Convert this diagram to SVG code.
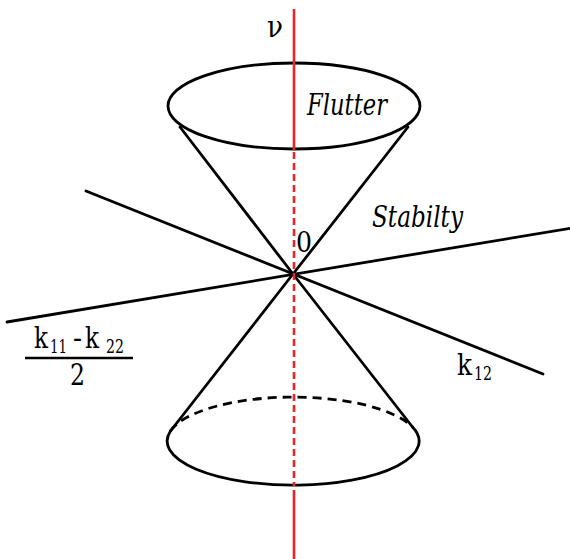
<svg xmlns="http://www.w3.org/2000/svg" width="570" height="559" viewBox="0 0 570 559">
<style>
.blk{stroke:#000;stroke-width:2.8;fill:none;stroke-linecap:round}
.dash{stroke-dasharray:9 6;stroke-linecap:butt}
.red{stroke:#e8262a;stroke-width:2.6;fill:none}
.rdash{stroke-dasharray:7 4}
.t{font-family:"DejaVu Serif",serif;fill:#000}
.it{font-style:italic}
</style>
<rect width="570" height="559" fill="#fff"/>
<g id="connectors">
<line class="blk" x1="86" y1="191" x2="543" y2="374"/>
<line class="blk" x1="7" y1="322" x2="572" y2="228"/>
</g>
<g id="upper-cone">
<ellipse class="blk" cx="294" cy="106" rx="126" ry="43"/>
<line class="blk" x1="180" y1="127" x2="293" y2="274"/>
<line class="blk" x1="408" y1="127" x2="293" y2="274"/>
</g>
<g id="lower-cone">
<line class="blk" x1="293" y1="274" x2="170.5" y2="431"/>
<line class="blk" x1="293" y1="274" x2="412.5" y2="427"/>
<path class="blk" d="M170.5,431 A126,44 0 1 0 412.5,427"/>
<path class="blk dash" d="M170.5,431 A126,44 0 0 1 412.5,427"/>
</g>
<g id="nu-axis">
<line class="red" x1="294" y1="9" x2="294" y2="150"/>
<line class="red rdash" x1="294" y1="152" x2="294" y2="486"/>
<line class="red" x1="294" y1="490" x2="294" y2="559"/>
</g>
<g id="labels">
<text class="t" x="267" y="37" font-size="29" textLength="16" lengthAdjust="spacingAndGlyphs">ν</text>
<text class="t it" x="307" y="115" font-size="29" textLength="80" lengthAdjust="spacingAndGlyphs">Flutter</text>
<text class="t it" x="372" y="227" font-size="29" textLength="91" lengthAdjust="spacingAndGlyphs">Stabilty</text>
<text class="t" x="296" y="252" font-size="27" textLength="16" lengthAdjust="spacingAndGlyphs">0</text>
<text class="t" x="457" y="375" font-size="29"><tspan textLength="15" lengthAdjust="spacingAndGlyphs">k</tspan><tspan font-size="19" dy="5" x="474" textLength="18" lengthAdjust="spacingAndGlyphs">12</tspan></text>
<text class="t" x="34" y="348" font-size="29"><tspan textLength="14" lengthAdjust="spacingAndGlyphs">k</tspan><tspan font-size="19" dy="5" x="50" textLength="17" lengthAdjust="spacingAndGlyphs">11</tspan><tspan dy="-5" x="73" textLength="9" lengthAdjust="spacingAndGlyphs">-</tspan><tspan x="85" textLength="14" lengthAdjust="spacingAndGlyphs">k</tspan><tspan font-size="19" dy="5" x="106" textLength="18" lengthAdjust="spacingAndGlyphs">22</tspan></text>
<line x1="25" y1="358" x2="133" y2="358" stroke="#000" stroke-width="2.4"/>
<text class="t" x="70" y="385" font-size="29" textLength="15" lengthAdjust="spacingAndGlyphs">2</text>
</g>
</svg>
